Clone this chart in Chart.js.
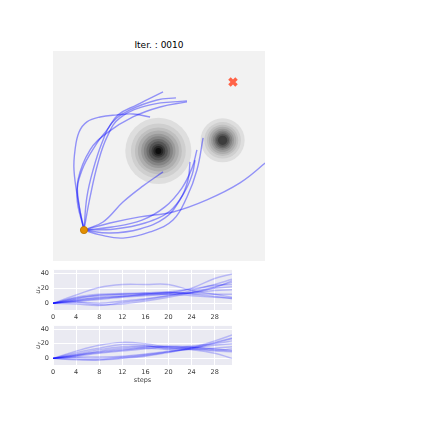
<!DOCTYPE html>
<html>
<head>
<meta charset="utf-8">
<script src="https://cdn.jsdelivr.net/npm/chart.js@4.4.1/dist/chart.umd.min.js"></script>
<style>
  html, body { margin: 0; padding: 0; background: #fff; width: 423px; height: 423px; overflow: hidden; }
  canvas { position: absolute; }
  #title { position: absolute; left: 53px; width: 212px; top: 39px; text-align: center;
           font: 9px "DejaVu Sans", sans-serif; line-height: 12px; color: #000; }
</style>
</head>
<body>
<div id="title">Iter. : 0010</div>
<canvas id="mainChart" width="212" height="210" style="left:53px;top:51px"></canvas>
<canvas id="uxChart" width="210" height="62" style="left:30px;top:262px"></canvas>
<canvas id="uyChart" width="210" height="69" style="left:30px;top:318px"></canvas>
<script>
// --- main plot data (plane units, 0..100) ---
const startPos = [14.6, 14.6];
const goalPos = [84.9, 84.4];
const obsX = [49.7, 80.0];
const obsY = [51.9, 56.9];
const obsR = [15.6, 10.4];
const obsLevels = [11, 9];

const pathX = [
  [14.6, 11.8, 9.9, 10.4, 12.3, 16.0, 22.2, 30.2, 37.7, 45.8],
  [14.6, 11.3, 13.7, 20.8, 25.5, 30.7, 39.6, 51.9],
  [14.6, 16.0, 18.9, 23.1, 27.8, 36.3, 49.1, 58.0],
  [14.6, 17.5, 21.2, 25.5, 31.6, 45.8, 63.2],
  [14.6, 12.3, 11.8, 17.5, 25.5, 37.7, 50.5, 63.2],
  [14.6, 23.6, 33.0, 42.5, 51.9],
  [14.6, 26.9, 41.0, 56.6, 72.6, 88.2, 100, 104],
  [14.6, 22.2, 33.0, 45.8, 56.6, 63.2, 67.9, 70.8],
  [14.6, 26.9, 41.0, 52.8, 59.9, 63.7, 64.6],
  [14.6, 29.2, 43.4, 55.2, 61.8, 65.6, 67.0],
  [14.6, 27.8, 42.0, 52.8, 60.8, 65.6, 67.9]
];
const pathY = [
  [14.6, 28.8, 42.9, 52.4, 60.8, 65.6, 67.9, 68.9, 69.3, 67.9],
  [14.6, 30.2, 42.9, 55.7, 61.8, 68.9, 73.6, 79.7],
  [14.6, 30.2, 42.9, 55.7, 65.1, 71.2, 75.9, 76.9],
  [14.6, 30.2, 46.2, 58.5, 67.5, 73.6, 75.5],
  [14.6, 26.4, 38.2, 52.4, 60.4, 67.9, 72.6, 75.0],
  [14.6, 18.4, 27.8, 35.4, 42.0],
  [14.6, 17.9, 20.8, 23.1, 28.8, 36.8, 46.2, 51.0],
  [14.6, 12.3, 10.8, 13.7, 19.3, 30.2, 42.9, 58.0],
  [14.6, 13.2, 15.1, 20.3, 28.8, 38.2, 46.7],
  [14.6, 15.1, 17.9, 23.6, 32.1, 40.6, 47.6],
  [14.6, 16.0, 19.3, 25.5, 34.4, 43.9, 52.4]
];

// --- control inputs per step ---
const steps = [0, 4, 8, 12, 16, 20, 24, 28, 31];
const uxSeries = [
  [0, 11, 21, 25, 25, 25, 17, 12, 8],
  [0, 3, 6, 9, 11, 13, 20, 33, 39],
  [0, -1, -3, 1, 5, 10, 17, 25, 32],
  [0, 2, 0, 3, 6, 10, 15, 22, 28],
  [0, 6, 11, 12, 13, 14, 13, 12, 12],
  [0, 8, 12, 13, 14, 15, 12, 9, 6],
  [0, 4, 8, 10, 12, 15, 19, 24, 25],
  [0, 5, 7, 9, 12, 14, 14, 17, 18],
  [0, 1, -2, -1, 3, 8, 14, 21, 30],
  [0, 7, 10, 12, 13, 12, 10, 8, 7],
  [0, 3, 5, 8, 10, 12, 14, 20, 22]
];
const uySeries = [
  [0, 10, 18, 22, 20, 15, 12, 7, 0],
  [0, 2, 2, 3, 6, 10, 15, 24, 32],
  [0, -2, -2, 0, 3, 8, 14, 22, 28],
  [0, 6, 12, 16, 17, 14, 15, 12, 10],
  [0, 8, 14, 19, 18, 13, 16, 13, 11],
  [0, 4, 10, 14, 16, 16, 13, 10, 9],
  [0, 3, 7, 10, 13, 16, 17, 20, 24],
  [0, -1, -2, 1, 4, 9, 14, 18, 20],
  [0, 5, 9, 12, 15, 17, 15, 11, 13],
  [0, 1, 0, 2, 5, 9, 13, 21, 27],
  [0, 4, 8, 11, 14, 12, 12, 14, 16]
];
const stepTicks = [0, 4, 8, 12, 16, 20, 24, 28];
const uTicks = [0, 20, 40];

const ringFrac = [1, .83, .71, .62, .52, .44, .36, .29, .21, .15, .09];
const ringGray = ['#dedede', '#cfcfcf', '#bfbfbf', '#adadad', '#999999', '#848484',
                  '#6d6d6d', '#555555', '#3d3d3d', '#252525', '#0d0d0d'];

const panelBg = {
  id: 'panelBg',
  beforeDraw(chart, args, opts) {
    const { ctx, chartArea: a } = chart;
    ctx.save();
    ctx.fillStyle = opts.color;
    ctx.fillRect(a.left, a.top, a.width, a.height);
    ctx.restore();
  }
};

const obstacles = {
  id: 'obstacles',
  beforeDatasetsDraw(chart) {
    const { ctx, chartArea: a, scales: { x, y } } = chart;
    ctx.save();
    ctx.beginPath(); ctx.rect(a.left, a.top, a.width, a.height); ctx.clip();
    obsX.forEach((cx, i) => {
      const px = x.getPixelForValue(cx), py = y.getPixelForValue(obsY[i]);
      const rad = x.getPixelForValue(obsR[i]) - x.getPixelForValue(0);
      for (let k = 0; k < obsLevels[i]; k++) {
        ctx.fillStyle = ringGray[k];
        ctx.beginPath(); ctx.arc(px, py, rad * ringFrac[k], 0, Math.PI * 2); ctx.fill();
      }
    });
    ctx.restore();
  }
};

const font = 'DejaVu Sans';

// main plane
new Chart(document.getElementById('mainChart'), {
  type: 'scatter',
  data: {
    datasets: [
      { data: [{ x: goalPos[0], y: goalPos[1] }], pointStyle: 'crossRot', pointRadius: 5,
        borderColor: '#ff6347', borderWidth: 3.5, backgroundColor: '#ff6347' },
      { data: [{ x: startPos[0], y: startPos[1] }], pointRadius: 3.6,
        backgroundColor: '#e38f00', borderColor: '#b97300', borderWidth: 0.8 },
      ...pathX.map((xs, i) => ({
        data: xs.map((v, j) => ({ x: v, y: pathY[i][j] })),
        showLine: true, pointRadius: 0, tension: 0.4,
        borderColor: 'rgba(0,0,255,0.4)', borderWidth: 1.4
      }))
    ]
  },
  options: {
    responsive: false, animation: false, devicePixelRatio: 1,
    layout: { padding: 0, autoPadding: false },
    plugins: { legend: { display: false }, tooltip: { enabled: false }, panelBg: { color: '#f2f2f2' } },
    scales: {
      x: { display: false, min: 0, max: 100 },
      y: { display: false, min: 0, max: 99 }
    }
  },
  plugins: [panelBg, obstacles]
});

function makePanel(id, series, yTitle, withXTitle) {
  return new Chart(document.getElementById(id), {
    type: 'scatter',
    data: {
      datasets: series.map(s => ({
        data: s.map((v, j) => ({ x: steps[j], y: v })),
        showLine: true, pointRadius: 0, tension: 0.4,
        borderColor: 'rgba(0,0,255,0.22)', borderWidth: 1.4
      }))
    },
    options: {
      responsive: false, animation: false, devicePixelRatio: 1,
      layout: { padding: { top: withXTitle ? 6 : 7, right: 8, left: 0, bottom: 0 }, autoPadding: false },
      plugins: { legend: { display: false }, tooltip: { enabled: false }, panelBg: { color: '#eaeaf2' } },
      scales: {
        x: {
          min: 0, max: 31,
          afterBuildTicks: s => { s.ticks = stepTicks.map(v => ({ value: v })); },
          afterFit: s => { s.height = withXTitle ? 22 : 14; },
          grid: { color: '#ffffff', lineWidth: 1, drawTicks: false },
          border: { display: false },
          ticks: { padding: 3, color: '#3a3a3a', font: { family: font, size: 6.5 }, maxRotation: 0 },
          title: { display: withXTitle, text: 'steps', color: '#3a3a3a', padding: { top: 0, bottom: 3 },
                   font: { family: font, size: 6.5 } }
        },
        y: {
          min: -9, max: 44.5,
          afterBuildTicks: s => { s.ticks = uTicks.map(v => ({ value: v })); },
          afterFit: s => { s.width = 23; },
          grid: { color: '#ffffff', lineWidth: 1, drawTicks: false },
          border: { display: false },
          ticks: { padding: 4, color: '#3a3a3a', font: { family: font, size: 6.5 } },
          title: { display: true, text: yTitle, color: '#3a3a3a', padding: { top: 4, bottom: 0 },
                   font: { family: font, size: 7, style: 'italic' } }
        }
      }
    },
    plugins: [panelBg]
  });
}

makePanel('uxChart', uxSeries, 'uₓ', false);
makePanel('uyChart', uySeries, 'uᵧ', true);
</script>
</body>
</html>
